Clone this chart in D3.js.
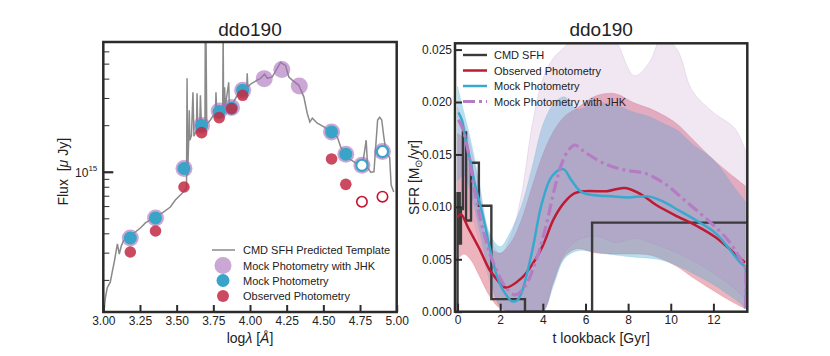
<!DOCTYPE html>
<html>
<head>
<meta charset="utf-8">
<script src="https://cdn.jsdelivr.net/npm/d3@7"></script>
<style>
  body { margin: 0; background: #fff; }
</style>
</head>
<body>
<svg id="chart"></svg>
<script>
// ---------- SED panel data (flux in units of 1e15 uJy) ----------
const specLogLam = [3.003, 3.014, 3.027, 3.048, 3.061, 3.075, 3.096, 3.109, 3.123, 3.137, 3.171, 3.218, 3.253,
  3.287, 3.321, 3.362, 3.403, 3.457, 3.491, 3.539, 3.567, 3.571, 3.575, 3.582, 3.586, 3.59, 3.601, 3.611, 3.618,
  3.635, 3.639, 3.644, 3.657, 3.662, 3.669, 3.693, 3.695, 3.698, 3.70, 3.705, 3.730, 3.765, 3.768, 3.773, 3.799,
  3.814, 3.817, 3.820, 3.827, 3.831, 3.855, 3.859, 3.88, 3.913, 3.958, 3.978, 3.981, 3.985, 4.003, 4.049, 4.072,
  4.099, 4.119, 4.152, 4.186, 4.208, 4.229, 4.242, 4.265, 4.288, 4.333, 4.367, 4.390, 4.408, 4.425, 4.459, 4.504,
  4.550, 4.595, 4.618, 4.640, 4.674, 4.709, 4.743, 4.768, 4.792, 4.802, 4.823, 4.845, 4.860, 4.870, 4.884, 4.898,
  4.911, 4.925, 4.939, 4.952, 4.962, 4.980]
const specFlux = [0.12, 0.153, 0.178, 0.194, 0.225, 0.262, 0.342, 0.294, 0.332, 0.357, 0.379, 0.408, 0.433,
  0.467, 0.488, 0.518, 0.542, 0.592, 0.657, 0.729, 0.785, 4.02, 0.95, 1.6, 2.5, 1.6, 1.72, 3.27, 1.70,
  1.86, 3.22, 1.86, 1.91, 3.12, 1.94, 1.97, 8.0, 1.98, 8.0, 2.03, 2.16, 2.43, 3.27, 2.46, 2.50,
  2.58, 8.0, 2.58, 3.52, 2.61, 3.79, 2.65, 2.74, 3.12, 3.37, 3.47, 4.33, 3.52, 3.68, 3.91, 4.02,
  4.27, 4.02, 4.10, 4.67, 5.10, 4.95, 4.87, 4.10, 3.91, 3.62, 3.05, 2.39, 2.10, 2.22, 2.06, 1.95,
  1.81, 1.68, 1.45, 1.35, 1.22, 1.16, 1.10, 1.12, 1.60, 1.06, 0.995, 1.0, 1.60, 2.16, 2.25, 2.16,
  1.72, 1.38, 1.28, 1.24, 0.82, 0.74]

// FUV, NUV, u, g, r, i, z, J, H, K, IRAC 3.6, 4.5, 5.8, 8.0
const photLogLam = [3.184, 3.356, 3.55, 3.67, 3.79, 3.874, 3.95, 4.097, 4.217, 4.336, 4.556, 4.653, 4.763, 4.903]
const jhkFlux = [0.373, 0.503, 1.05, 1.99, 2.47, 2.60, 3.37, 4.0, 4.58, 3.59, 1.81, 1.30, 1.10, 1.35]
const mockFlux = [0.373, 0.503, 1.05, 1.99, 2.45, 2.58, 3.37, null, null, null, 1.81, 1.30, 1.10, 1.35]
const obsFlux = [0.303, 0.414, 0.797, 1.79, 2.24, 2.56, 3.12, null, null, null, 1.21, 0.829, 0.64, 0.69]
const openPoint = [false, false, false, false, false, false, false, false, false, false, false, false, true, true]

const sedXTicks = [3.0, 3.25, 3.5, 3.75, 4.0, 4.25, 4.5, 4.75, 5.0]
const sedMinorTicks = [0.2, 0.3, 0.4, 0.5, 0.6, 0.7, 0.8, 0.9, 2, 3, 4, 5, 6, 7]
const sedLegend = ["CMD SFH Predicted Template", "Mock Photometry with JHK", "Mock Photometry", "Observed Photometry"]

// ---------- SFH panel data ----------
const cmdEdges = [0, 0.1, 0.158, 0.251, 0.398, 0.631, 1.0, 1.585, 3.162, 6.31, 14.1]
const cmdSfr = [0.0113, 0.0065, 0.0098, 0.0171, 0.0087, 0.0142, 0.0101, 0.0012, 0.0, 0.0085]

const obsT = [0, 0.16, 0.5, 1.0, 1.5, 1.76, 2.25, 3.0, 3.5, 4.0, 4.5, 5.0, 5.5, 6.0, 7.0, 7.85, 8.6, 9.3, 10.3, 11.2, 12.1, 13.3, 13.48]
const obsSfr = [0.0090, 0.0093, 0.0080, 0.0061, 0.0040, 0.0033, 0.0023, 0.0032, 0.0045, 0.0063, 0.0088, 0.0104, 0.0113,
  0.0115, 0.0115, 0.0118, 0.0112, 0.0102, 0.0091, 0.0082, 0.0071, 0.0050, 0.0047]

const mockT = [0.04, 0.2, 0.35, 0.6, 0.82, 1.05, 1.29, 1.52, 1.76, 2.0, 2.23, 2.55, 2.8, 3.0, 3.48, 3.95, 4.42, 4.96,
  5.35, 5.82, 6.45, 7.2, 8.0, 8.94, 9.65, 10.35, 11.2, 12.1, 13.3, 13.48, 13.49]
const mockSfr = [0.0190, 0.0183, 0.0167, 0.0144, 0.0121, 0.0103, 0.0082, 0.0060, 0.0040, 0.0026, 0.00175, 0.0010,
  0.0011, 0.0018, 0.0056, 0.0103, 0.0129, 0.0136, 0.0125, 0.0114, 0.0111, 0.0110, 0.0109, 0.0110, 0.0105, 0.0097,
  0.0087, 0.0075, 0.0046, 0.0043, 0.0003]

const jhkT = [0.04, 0.27, 0.51, 0.82, 1.05, 1.29, 1.52, 1.76, 2.23, 2.7, 3.16, 3.63, 4.1, 4.57, 4.88, 5.2, 5.5, 5.98,
  6.92, 7.85, 8.79, 9.73, 10.67, 11.76, 12.7, 13.4, 13.48, 13.49]
const jhkSfr = [0.0183, 0.0173, 0.0151, 0.0113, 0.0090, 0.0071, 0.0055, 0.0043, 0.0024, 0.0016, 0.0024, 0.0046, 0.0078,
  0.0119, 0.0141, 0.0154, 0.0159, 0.0152, 0.0141, 0.0135, 0.0132, 0.0122, 0.0106, 0.0087, 0.0068, 0.0046, 0.0044, 0.0]

// uncertainty bands, sampled on a shared time grid
const bandT = [0, 0.3, 0.6, 1.0, 1.5, 2.0, 2.5, 3.0, 3.5, 4.0, 4.5, 5.0, 5.6, 6.5, 7.4, 8.3, 9.0, 9.6, 10.3, 11.0, 12.0, 13.0, 13.5]
const obsHi = [0.0170, 0.0165, 0.0145, 0.0105, 0.0062, 0.0056, 0.0066, 0.0088, 0.0120, 0.0150, 0.0172, 0.0186, 0.0194,
  0.0206, 0.0208, 0.0199, 0.0194, 0.0188, 0.0179, 0.0165, 0.0145, 0.0128, 0.0120]
const obsLo = [0.0050, 0.0055, 0.0050, 0.0035, 0.0015, 0.0003, 0, 0, 0, 0, 0.0028, 0.0052, 0.0060,
  0.0056, 0.0055, 0.0055, 0.0054, 0.0050, 0.0043, 0.0033, 0.0020, 0.0008, 0.0003]
const mockHi = [0.0215, 0.0190, 0.0165, 0.0125, 0.0075, 0.0062, 0.0077, 0.0101, 0.0138, 0.0178, 0.0198, 0.0205, 0.0193,
  0.0199, 0.0197, 0.0190, 0.0186, 0.0180, 0.0173, 0.0160, 0.0145, 0.0118, 0.0105]
const mockLo = [0.0125, 0.0130, 0.0115, 0.0080, 0.0035, 0.0005, 0, 0, 0, 0, 0.0025, 0.0050, 0.0058,
  0.0057, 0.0054, 0.0052, 0.0051, 0.0049, 0.0044, 0.0037, 0.0026, 0.0012, 0.0004]
const jhkHi = [0.0195, 0.0180, 0.0158, 0.0120, 0.0072, 0.0055, 0.0072, 0.0112, 0.0178, 0.0222, 0.0242, 0.0252, 0.0265,
  0.0282, 0.0260, 0.0225, 0.0238, 0.0262, 0.0250, 0.0211, 0.0190, 0.0175, 0.0154]
const jhkLo = [0.0090, 0.0100, 0.0095, 0.0068, 0.0030, 0.0005, 0, 0, 0, 0, 0.0030, 0.0056, 0.0068,
  0.0072, 0.0066, 0.0070, 0.0066, 0.0062, 0.0056, 0.0049, 0.0037, 0.0022, 0.0012]

const sfhXTicks = [0, 2, 4, 6, 8, 10, 12]
const sfhYTicks = [0, 0.005, 0.010, 0.015, 0.020, 0.025]
const sfhLegend = ["CMD SFH", "Observed Photometry", "Mock Photometry", "Mock Photometry with JHK"]

// ---------- styles ----------
const FONT = '"Liberation Sans", Arial, Helvetica, sans-serif'
const FRAME = "#2b2b2b"
const C_PURPLE = "#a66cb8"
const C_BLUE = "#3aa3c8"
const C_RED = "#c22a44"
const L_RED = "#bf1a33"
const L_BLUE = "#38a8cf"
const L_PURPLE = "#b67cc3"

const svg = d3.select("#chart")
  .attr("width", 830)
  .attr("height", 356)
  .style("font-family", FONT)

const defs = svg.append("defs")

drawSedPanel()
drawSfhPanel()

function addClip(id, box) {
  defs.append("clipPath").attr("id", id)
    .append("rect")
    .attr("x", box.left).attr("y", box.top)
    .attr("width", box.right - box.left).attr("height", box.bottom - box.top)
}

function drawFrame(box) {
  svg.append("rect")
    .attr("x", box.left).attr("y", box.top)
    .attr("width", box.right - box.left).attr("height", box.bottom - box.top)
    .attr("fill", "none")
    .attr("stroke", FRAME)
    .attr("stroke-width", 2.5)
}

function styleAxis(g, width) {
  g.select(".domain").remove()
  g.selectAll(".tick line").attr("stroke", FRAME).attr("stroke-width", width)
  g.selectAll(".tick text").attr("font-family", FONT).attr("font-size", 12).attr("fill", "#222")
}

function drawSedPanel() {
  const box = { left: 103.3, right: 396.7, top: 42, bottom: 312 }
  const x = d3.scaleLinear().domain([3, 5]).range([box.left, box.right])
  const y = d3.scaleLog().domain([0.124, 6.9]).range([box.bottom, box.top])
  addClip("clipSed", box)

  svg.append("text")
    .attr("x", (box.left + box.right) / 2).attr("y", 36)
    .attr("text-anchor", "middle").attr("font-size", 19).attr("fill", "#222")
    .text("ddo190")

  // template spectrum
  const line = d3.line().x((d, i) => x(specLogLam[i])).y(d => y(d))
  svg.append("path")
    .datum(specFlux)
    .attr("clip-path", "url(#clipSed)")
    .attr("d", line)
    .attr("fill", "none")
    .attr("stroke", "#8a8a8a")
    .attr("stroke-width", 1.5)

  const idx = d3.range(photLogLam.length)
  const g = svg.append("g")

  g.selectAll("circle.jhk")
    .data(idx.filter(i => jhkFlux[i] != null))
    .join("circle")
    .attr("cx", i => x(photLogLam[i])).attr("cy", i => y(jhkFlux[i]))
    .attr("r", 8.5)
    .attr("fill", C_PURPLE).attr("fill-opacity", 0.6)

  g.selectAll("circle.mock")
    .data(idx.filter(i => mockFlux[i] != null))
    .join("circle")
    .attr("cx", i => x(photLogLam[i])).attr("cy", i => y(mockFlux[i]))
    .attr("r", i => openPoint[i] ? 5.6 : 6.5)
    .attr("fill", i => openPoint[i] ? "#fff" : C_BLUE)
    .attr("stroke", i => openPoint[i] ? C_BLUE : "none")
    .attr("stroke-width", 2.2)

  g.selectAll("circle.obs")
    .data(idx.filter(i => obsFlux[i] != null))
    .join("circle")
    .attr("cx", i => x(photLogLam[i])).attr("cy", i => y(obsFlux[i]))
    .attr("r", i => openPoint[i] ? 5.2 : 5.8)
    .attr("fill", i => openPoint[i] ? "none" : C_RED)
    .attr("fill-opacity", 0.85)
    .attr("stroke", i => openPoint[i] ? "#c8102e" : "none")
    .attr("stroke-width", 1.6)

  // axes, ticks pointing inward
  svg.append("g")
    .attr("transform", `translate(0,${box.bottom})`)
    .call(d3.axisBottom(x).tickValues(sedXTicks).tickSize(-7).tickPadding(4).tickFormat(d3.format(".2f")))
    .call(g => styleAxis(g, 2))

  svg.append("g")
    .attr("transform", `translate(${box.left},0)`)
    .call(d3.axisLeft(y).tickValues(sedMinorTicks).tickSize(-6).tickFormat(""))
    .call(g => styleAxis(g, 1))

  svg.append("g")
    .attr("transform", `translate(${box.left},0)`)
    .call(d3.axisLeft(y).tickValues([1]).tickSize(-10).tickFormat(""))
    .call(g => styleAxis(g, 2.2))

  const major = svg.append("text")
    .attr("x", box.left - 6).attr("y", y(1) + 5)
    .attr("text-anchor", "end").attr("font-size", 12).attr("fill", "#222")
  major.append("tspan").text("10")
  major.append("tspan").attr("dy", -6).attr("font-size", 8).text("15")

  // axis labels
  const xl = svg.append("text")
    .attr("x", (box.left + box.right) / 2).attr("y", 343)
    .attr("text-anchor", "middle").attr("font-size", 14).attr("fill", "#222")
  xl.append("tspan").text("log")
  xl.append("tspan").attr("font-style", "italic").text("λ")
  xl.append("tspan").text(" [")
  xl.append("tspan").attr("font-style", "italic").text("Å")
  xl.append("tspan").text("]")

  const yl = svg.append("text")
    .attr("transform", `translate(68,${y(1)}) rotate(-90)`)
    .attr("text-anchor", "middle").attr("font-size", 14).attr("fill", "#222")
  yl.append("tspan").text("Flux\u00a0\u00a0[")
  yl.append("tspan").attr("font-style", "italic").text("μ")
  yl.append("tspan").text("\u00a0Jy]")

  // legend
  const lg = svg.append("g").attr("transform", "translate(223,250)")
  const rows = [0, 15.5, 30.5, 46]
  lg.append("line").attr("x1", -11).attr("x2", 12).attr("y1", rows[0]).attr("y2", rows[0])
    .attr("stroke", "#8a8a8a").attr("stroke-width", 1.5)
  lg.append("circle").attr("cy", rows[1]).attr("r", 8.5).attr("fill", C_PURPLE).attr("fill-opacity", 0.6)
  lg.append("circle").attr("cy", rows[2]).attr("r", 6.5).attr("fill", C_BLUE)
  lg.append("circle").attr("cy", rows[3]).attr("r", 6).attr("fill", C_RED).attr("fill-opacity", 0.85)
  lg.selectAll("text")
    .data(sedLegend)
    .join("text")
    .attr("x", 20).attr("y", (d, i) => rows[i] + 4)
    .attr("font-size", 11).attr("fill", "#222")
    .text(d => d)

  drawFrame(box)
}

function drawSfhPanel() {
  const box = { left: 455, right: 747.3, top: 43.3, bottom: 311.7 }
  const x = d3.scaleLinear().domain([-0.12, 13.59]).range([box.left, box.right])
  const y = d3.scaleLinear().domain([0, 0.0256]).range([box.bottom, box.top])
  addClip("clipSfh", box)

  svg.append("text")
    .attr("x", (box.left + box.right) / 2).attr("y", 36)
    .attr("text-anchor", "middle").attr("font-size", 19).attr("fill", "#222")
    .text("ddo190")

  const plot = svg.append("g").attr("clip-path", "url(#clipSfh)")

  // uncertainty bands
  const bands = [
    { lo: obsLo, hi: obsHi, color: "#d23a55", opacity: 0.38 },
    { lo: mockLo, hi: mockHi, color: "#4aaed4", opacity: 0.38 },
    { lo: jhkLo, hi: jhkHi, color: "#b487c4", opacity: 0.2 }
  ]
  bands.forEach(b => {
    const area = d3.area()
      .x((d, i) => x(bandT[i]))
      .y0((d, i) => y(b.lo[i]))
      .y1((d, i) => y(b.hi[i]))
      .curve(d3.curveCatmullRom.alpha(0.5))
    plot.append("path")
      .datum(bandT)
      .attr("d", area)
      .attr("fill", b.color)
      .attr("fill-opacity", b.opacity)
      .attr("stroke", b.color)
      .attr("stroke-opacity", 0.25)
      .attr("stroke-width", 0.8)
  })

  // CMD SFH as a step function
  const cmdPts = [[0, 0]].concat(cmdEdges.map((e, i) => [e, cmdSfr[Math.min(i, cmdSfr.length - 1)]]))
  plot.append("path")
    .datum(cmdPts)
    .attr("d", d3.line().x(d => x(d[0])).y(d => y(d[1])).curve(d3.curveStepAfter))
    .attr("fill", "none")
    .attr("stroke", "#3a3a3a")
    .attr("stroke-width", 2.4)

  const curve = (ts, vs) => d3.line()
    .x((d, i) => x(ts[i])).y(d => y(d))
    .curve(d3.curveCatmullRom.alpha(0.5))(vs)

  plot.append("path").attr("d", curve(obsT, obsSfr))
    .attr("fill", "none").attr("stroke", L_RED).attr("stroke-width", 2.5)
  plot.append("path").attr("d", curve(mockT, mockSfr))
    .attr("fill", "none").attr("stroke", L_BLUE).attr("stroke-width", 2.5)
  plot.append("path").attr("d", curve(jhkT, jhkSfr))
    .attr("fill", "none").attr("stroke", L_PURPLE).attr("stroke-width", 3.2)
    .attr("stroke-dasharray", "12,4,3,4")

  // axes
  svg.append("g")
    .attr("transform", `translate(0,${box.bottom})`)
    .call(d3.axisBottom(x).tickValues(sfhXTicks).tickSize(-8).tickPadding(4).tickFormat(d3.format("d")))
    .call(g => styleAxis(g, 2))

  svg.append("g")
    .attr("transform", `translate(${box.left},0)`)
    .call(d3.axisLeft(y).tickValues(sfhYTicks).tickSize(-7).tickPadding(3).tickFormat(d3.format(".3f")))
    .call(g => styleAxis(g, 2))

  svg.append("text")
    .attr("x", (box.left + box.right) / 2).attr("y", 343)
    .attr("text-anchor", "middle").attr("font-size", 14).attr("fill", "#222")
    .text("t lookback [Gyr]")

  const yl = svg.append("text")
    .attr("transform", `translate(419,${(box.top + box.bottom) / 2}) rotate(-90)`)
    .attr("text-anchor", "middle").attr("font-size", 14).attr("fill", "#222")
  yl.append("tspan").text("SFR [M")
  yl.append("tspan").attr("dy", 3).attr("font-size", 10).text("⊙")
  yl.append("tspan").attr("dy", -3).text("/yr]")

  // legend
  const lg = svg.append("g").attr("transform", "translate(463,55)")
  const legendStyles = [
    { color: "#3a3a3a", width: 2.4, dash: null },
    { color: L_RED, width: 2.5, dash: null },
    { color: L_BLUE, width: 2.5, dash: null },
    { color: L_PURPLE, width: 3.2, dash: "12,4,3,4" }
  ]
  const rowY = i => i * 15.5
  lg.selectAll("line")
    .data(legendStyles)
    .join("line")
    .attr("x1", 0).attr("x2", 24)
    .attr("y1", (d, i) => rowY(i)).attr("y2", (d, i) => rowY(i))
    .attr("stroke", d => d.color)
    .attr("stroke-width", d => d.width)
    .attr("stroke-dasharray", d => d.dash)
  lg.selectAll("text")
    .data(sfhLegend)
    .join("text")
    .attr("x", 31).attr("y", (d, i) => rowY(i) + 4)
    .attr("font-size", 11).attr("fill", "#222")
    .text(d => d)

  drawFrame(box)
}
</script>
</body>
</html>
